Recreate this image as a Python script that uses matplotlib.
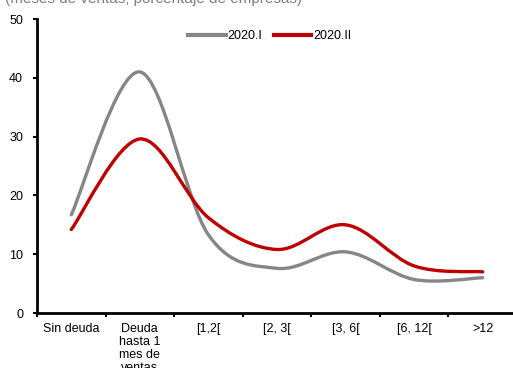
import matplotlib
matplotlib.use('Agg')
import matplotlib.pyplot as plt
import numpy as np
from matplotlib.path import Path
from matplotlib.patches import PathPatch
from matplotlib.lines import Line2D

plt.rcParams['font.family'] = ['Liberation Sans', 'DejaVu Sans']

categorias = ['Sin deuda', 'Deuda\nhasta 1\nmes de\nventas', '[1,2[', '[2, 3[', '[3, 6[', '[6, 12[', '>12']
serie_2020_I = [16.7, 41.0, 13.3, 7.6, 10.4, 5.7, 6.0]
serie_2020_II = [14.2, 29.6, 16.2, 10.8, 15.0, 8.0, 7.0]
nombres = ['2020.I', '2020.II']
colores = ['#868686', '#C00000']


def smooth_path(x, y):
    # Excel-style smoothed line: cubic Bezier through every point
    pts = np.column_stack([x, y]).astype(float)
    verts = [pts[0]]
    codes = [Path.MOVETO]
    n = len(pts)
    for i in range(n - 1):
        p0 = pts[i - 1] if i > 0 else pts[i]
        p1 = pts[i]
        p2 = pts[i + 1]
        p3 = pts[i + 2] if i + 2 < n else pts[i + 1]
        c1 = p1 + (p2 - p0) / 6.0
        c2 = p2 - (p3 - p1) / 6.0
        verts += [c1, c2, p2]
        codes += [Path.CURVE4] * 3
    return Path(verts, codes)


fig = plt.figure(figsize=(5.13, 3.68), dpi=100)
ax = fig.add_axes([37 / 513, 55 / 368, (517 - 37) / 513, 294 / 368])

x = np.arange(len(categorias))
for serie, color in zip([serie_2020_I, serie_2020_II], colores):
    patch = PathPatch(smooth_path(x, serie), facecolor='none', edgecolor=color,
                      lw=2.4, capstyle='round', joinstyle='round')
    ax.add_patch(patch)

ax.set_xlim(-0.5, len(categorias) - 0.5)
ax.set_ylim(0, 50)
ax.set_yticks(np.arange(0, 51, 10))
ax.set_xticks(x)
ax.set_xticklabels(categorias, fontsize=9, va='top', linespacing=1.08)
ax.set_xticks(np.arange(-0.5, len(categorias), 1), minor=True)
ax.tick_params(axis='x', which='major', length=0, pad=7.5)
ax.tick_params(axis='x', which='minor', length=3, width=1.5, direction='out')
ax.tick_params(axis='y', length=3, width=1.5, labelsize=9, pad=7)
for s in ['top', 'right']:
    ax.spines[s].set_visible(False)
for s in ['left', 'bottom']:
    ax.spines[s].set_linewidth(2)

handles = [Line2D([0], [0], color=c, lw=3) for c in colores]
ax.legend(handles, nombres, loc='upper center', bbox_to_anchor=(0.485, 1.0), ncol=2,
          frameon=False, fontsize=9, handlelength=3.0, handletextpad=0.15,
          columnspacing=0.9)

fig.text(0.01, 1.003, '(meses de ventas; porcentaje de empresas)', fontsize=11,
         color='#808080', va='center', ha='left')

fig.savefig('out.png', dpi=100)
